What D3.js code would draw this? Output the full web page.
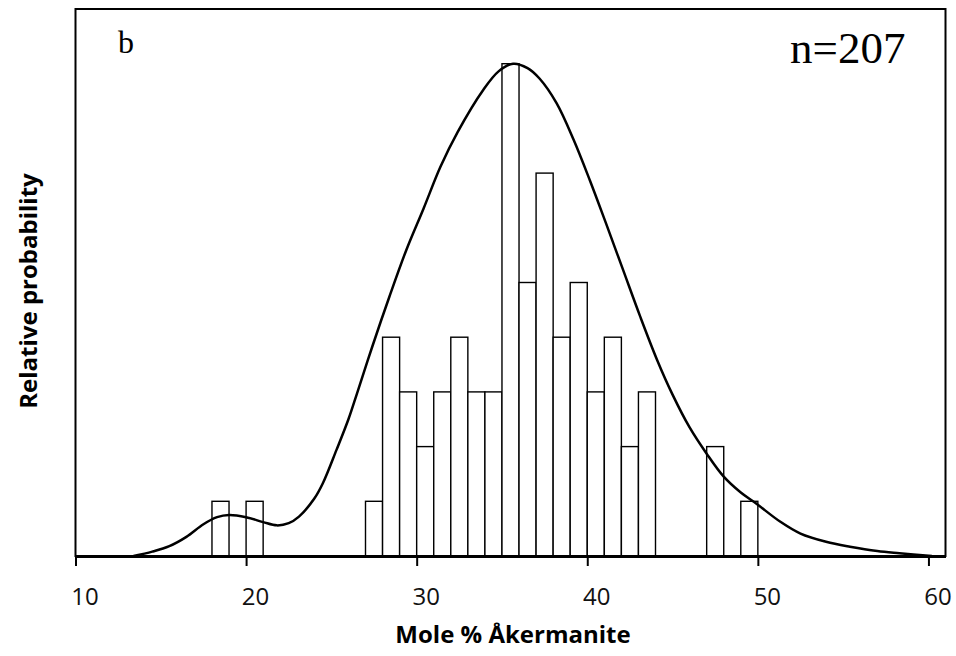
<!DOCTYPE html>
<html>
<head>
<meta charset="utf-8">
<script src="https://cdn.jsdelivr.net/npm/d3@7.9.0/dist/d3.min.js"></script>
<style>
  body { margin: 0; background: #fff; }
  svg { display: block; }
</style>
</head>
<body>
<svg width="956" height="656"></svg>
<script>
// histogram bins (left edge of a 1 % wide bin) and counts
const binStarts = [18, 20, 27, 28, 29, 30, 31, 32, 33, 34, 35, 36, 37, 38, 39, 40, 41, 42, 43, 47, 49];
const binCounts = [1, 1, 1, 4, 3, 2, 3, 4, 3, 3, 9, 5, 7, 4, 5, 3, 4, 2, 3, 2, 1];

// probability curve
const curveX = [13.4, 14.5, 15.5, 16.5, 17.5, 18.3, 19.0, 20, 21, 21.8, 22.5, 23.1, 24, 24.5, 25.3, 26, 26.5, 27.4,
  28.4, 29.4, 30.4, 31.4, 32.4, 33.9, 34.8, 35.65, 36.5, 37.2, 38.2, 39.2, 40.15, 41.1, 42.1, 43.1, 44.1, 45.0,
  46.0, 47.0, 48, 49, 49.9, 51.3, 52.5, 54, 55.4, 57, 58.3, 60.2];
const curveY = [0, 0.08, 0.18, 0.35, 0.58, 0.71, 0.75, 0.71, 0.62, 0.56, 0.6, 0.72, 1.05, 1.33, 1.94, 2.5, 2.97, 3.83,
  4.74, 5.6, 6.35, 7.12, 7.75, 8.52, 8.86, 9.0, 8.92, 8.73, 8.28, 7.61, 6.87, 6.08, 5.23, 4.38, 3.58, 2.95,
  2.35, 1.87, 1.45, 1.16, 0.96, 0.63, 0.41, 0.26, 0.17, 0.09, 0.05, 0];

const xTicks = [10, 20, 30, 40, 50, 60];

const svg = d3.select('svg');
const x = d3.scaleLinear().domain([10, 61]).range([75.5, 945.5]);
const y = d3.scaleLinear().domain([0, 10]).range([556, 9]);

// plot box
svg.append('rect')
  .attr('x', x(10)).attr('y', y(10))
  .attr('width', x(61) - x(10)).attr('height', y(0) - y(10))
  .attr('fill', 'none').attr('stroke', '#000').attr('stroke-width', 2);

// bars
binStarts.forEach((b, i) => {
  svg.append('rect')
    .attr('x', x(b)).attr('y', y(binCounts[i]))
    .attr('width', x(b + 1) - x(b)).attr('height', y(0) - y(binCounts[i]))
    .attr('fill', '#fff').attr('stroke', '#000').attr('stroke-width', 1.4);
});

// curve
const pts = curveX.map((d, i) => [d, curveY[i]]);
svg.append('path')
  .attr('d', d3.line().x(d => x(d[0])).y(d => y(d[1])).curve(d3.curveCatmullRom.alpha(0.5))(pts))
  .attr('fill', 'none').attr('stroke', '#000').attr('stroke-width', 2.5);

// x axis
const xAxis = svg.append('g')
  .attr('transform', `translate(0,${y(0)})`)
  .call(d3.axisBottom(x).tickValues(xTicks).tickSize(10).tickSizeOuter(0));
xAxis.select('.domain').attr('stroke-width', 3);
xAxis.selectAll('.tick line').attr('stroke-width', 2);
xAxis.selectAll('.tick text')
  .attr('font-family', 'Open Sans').attr('font-size', 24).attr('fill', '#111')
  .attr('dx', 9).attr('y', 32).attr('dy', '0.71em');

svg.append('text')
  .attr('x', 513).attr('y', 643)
  .attr('text-anchor', 'middle')
  .attr('font-family', 'Open Sans').attr('font-weight', 'bold').attr('font-size', 24)
  .text('Mole % Åkermanite');

svg.append('text')
  .attr('transform', 'translate(37,291) rotate(-90)')
  .attr('text-anchor', 'middle')
  .attr('font-family', 'Open Sans').attr('font-weight', 'bold').attr('font-size', 24)
  .text('Relative probability');

svg.append('text')
  .attr('x', 118).attr('y', 53)
  .attr('font-family', 'Liberation Serif').attr('font-size', 32)
  .text('b');

svg.append('text')
  .attr('x', 790).attr('y', 63)
  .attr('font-family', 'Liberation Serif').attr('font-size', 45)
  .text('n=207');
</script>
</body>
</html>
